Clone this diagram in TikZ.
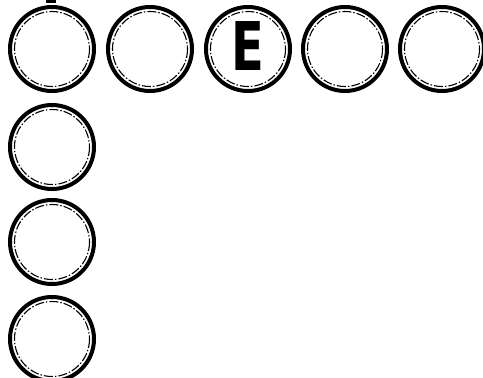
\documentclass[tikz,border=0pt]{standalone}
\usepackage{fontspec}
\newfontfamily\efont{DejaVu Sans}
\begin{document}
\begin{tikzpicture}[x=1pt,y=-1pt,
  ring/.style={circle,draw=black,line width=4pt,minimum size=84pt,inner sep=0pt},
  inring/.style={draw=black,line width=1.1pt,dash pattern=on 9pt off 2pt on 1.5pt off 2pt}]
\useasboundingbox (0,0) rectangle (483,378);
\foreach \n/\x/\y in {a/52/49,b/150/49,c/248/49,d/345/49,e/442/49,f/52/147,g/52/242,h/52/339}{
  \node[ring] (\n) at (\x,\y) {};
  \draw[inring] (\n.center) circle[radius=37.5];
}
\node[font=\efont\bfseries\fontsize{64}{64}\selectfont,inner sep=0pt] (E) at ([yshift=3pt]c) {\scalebox{0.75}[1.05]{E}};
\fill (46,0) rectangle (56,2.5);
\end{tikzpicture}
\end{document}
